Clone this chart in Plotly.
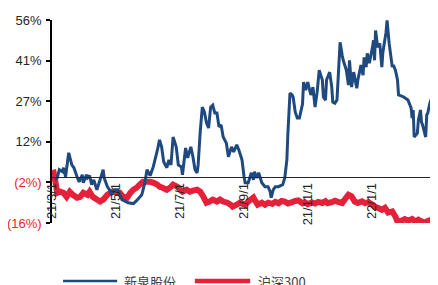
import pandas as pd
import plotly.graph_objects as go

start_date = "2021-03-01"

# 新泉股份 relative return (%) — day offsets from 2021-03-01
blue_days = [3, 5, 7, 10, 11, 13, 16, 19, 21, 24, 26, 29, 30, 33, 34, 36, 38, 40, 43, 46, 49, 50, 53, 55, 57, 60,
             63, 67, 73, 78, 81, 86, 89, 91, 94, 97, 101, 103, 105, 107, 110, 112, 114, 116, 119, 121, 124, 125,
             128, 130, 133, 135, 137, 139, 140, 142, 144, 146, 148, 150, 152, 154, 156, 158, 160, 162, 164, 167,
             169, 171, 172, 174, 177, 179, 182, 184, 185, 188, 191, 193, 194, 196, 198, 201, 204, 207, 209, 210,
             212, 214, 217, 221, 223, 225, 226, 228, 230, 231, 233, 235, 237, 240, 241, 243, 245, 248, 250, 252,
             254, 256, 259, 260, 262, 263, 266, 268, 269, 271, 273, 276, 278, 279, 282, 284, 285, 287, 289, 292,
             293, 296, 298, 299, 301, 302, 304, 307, 308, 309, 310, 312, 314, 316, 317, 320, 321, 323, 326, 327,
             329, 331, 332, 337, 341, 344, 345, 346, 347, 350, 351, 353, 354, 355, 358, 359, 360, 362, 364, 365]
blue_vals = [-1.0, -0.4, 2.5, 1.8, 3.2, 0.0, 8.5, 4.2, 3.2, 0.0, -1.8, 0.7, -2.1, 0.7, -0.4, 0.4, -2.8, -1.1, -4.6,
             -1.1, 2.5, -0.4, -3.5, -4.6, -6.4, -4.6,
             -4.6, -8.1, -9.2, -9.5, -8.5, -6.4, -2.1, 2.5, 0.4, 3.5, 9.5, 13.1, 10.6, 5.3, 3.2, 6.0, 4.2, 14.1,
             10.6, 4.2, 3.5, 0.7,
             10.2, 6.7, 10.6, 7.1, 2.5, 1.4, 4.2, 15.9, 24.7, 23.0, 19.1, 17.3, 24.7, 25.4, 22.6, 22.6, 17.7,
             18.4, 14.1, 12.0,
             7.1, 9.5, 10.6, 8.8, 11.3, 9.5, 6.0, 0.0, -2.1, -2.1, 1.4, -1.1, 1.8, -0.4, 1.4, -2.1, -3.5, -3.5,
             -5.3, -7.4,
             -4.6, -3.5, -3.5, -2.8, -0.4, 6.0, 15.5, 29.7, 29.0, 28.3, 23.0, 20.8, 20.8, 25.8, 33.6, 30.7,
             33.6, 29.0, 31.8, 24.7,
             30.0, 37.8, 34.3, 28.3, 27.2, 34.3, 37.1, 31.8, 26.5, 26.1, 27.2, 47.7, 43.1, 41.3, 37.8, 32.5,
             41.3, 31.8, 37.1, 31.4,
             34.3, 39.6, 36.0, 42.4, 38.9, 43.8, 40.3, 45.9, 48.4, 41.3, 51.9, 45.9, 47.3, 38.9, 44.2, 51.2,
             55.5, 47.3, 38.9, 39.6,
             37.8, 34.3, 29.0, 28.3, 27.2, 24.4, 20.8, 23.7, 14.1, 15.5, 20.1, 23.7, 19.4, 18.4, 14.1, 21.9,
             22.6, 26.1, 28.3, 33.6]

# 沪深300 relative return (%)
red_days = [1, 3, 5, 8, 11, 14, 17, 20, 24, 27, 30, 34, 36, 39, 43, 46, 49, 53, 56, 58, 62, 65, 68, 72, 75, 78,
            81, 84, 87, 91, 94, 97, 101, 103, 106, 110, 113, 116, 120, 123, 125, 129, 132, 135, 139, 142, 145,
            148, 151, 154, 158, 161, 164, 168, 171, 173, 177, 180, 185, 188, 193, 194, 197, 201, 204, 207, 211,
            214, 217, 220, 223, 226, 230, 233, 236, 240, 242, 245, 249, 252, 255, 259, 262, 264, 268, 271, 274,
            278, 281, 284, 287, 290, 293, 297, 300, 303, 307, 309, 312, 316, 319, 322, 326, 329, 331, 335, 338,
            341, 345, 348, 351, 354, 357, 360, 364, 365]
red_vals = [2.5, -1.1, -5.7, -5.3, -5.7, -7.1, -5.3, -6.4, -7.4, -7.1, -5.7, -6.4, -5.3, -7.1, -8.1, -8.8, -8.1,
            -6.4, -5.7, -5.3, -5.7, -5.7, -7.1, -7.4, -5.7, -4.6,
            -3.9, -2.8, -1.8, -1.8, -1.8, -2.1, -2.8, -3.5, -3.9, -4.6, -3.9, -2.8, -3.5, -4.6, -5.3, -4.6, -5.3,
            -4.9, -4.6, -5.3, -7.1,
            -9.2, -8.8, -8.1, -8.8, -8.1, -8.8, -9.2, -9.9, -10.6, -9.9, -9.2, -9.9, -8.8, -7.4, -8.1, -9.9,
            -9.2, -9.9, -9.2, -9.6,
            -8.9, -9.4, -8.6, -8.8, -9.5, -9.0, -8.6, -8.4, -9.4, -9.0, -9.7, -9.1, -9.5, -8.9, -9.3, -8.7,
            -9.4, -9.0, -8.5, -8.9,
            -9.3, -7.8, -6.4, -6.9, -8.8, -9.3, -8.7, -9.4, -9.0, -9.9, -10.6, -11.0, -11.7, -11.0, -12.7,
            -12.3, -14.1, -15.9, -15.6, -15.0,
            -15.6, -15.0, -15.9, -15.2, -15.8, -16.3, -15.7, -15.1, -15.0]

series_names = ["新泉股份", "沪深300"]
y_tick_vals = [-16.4, -2.0, 12.4, 26.8, 41.2, 55.6]
y_tick_labels = ["(16%)", "(2%)", "12%", "27%", "41%", "56%"]
x_tick_dates = ["2021-03-01", "2021-05-01", "2021-07-01", "2021-09-01", "2021-11-01", "2022-01-01", "2022-03-01"]
x_tick_labels = ["21/3/1", "21/5/1", "21/7/1", "21/9/1", "21/11/1", "22/1/1", "22/3/1"]

BLUE = "#1F4A80"
RED = "#E5213A"
NEG = "#F0202A"

base = pd.Timestamp(start_date)
blue_x = [base + pd.Timedelta(days=d) for d in blue_days]
red_x = [base + pd.Timedelta(days=d) for d in red_days]

y_min, y_max = y_tick_vals[0], y_tick_vals[-1]

fig = go.Figure()
fig.add_trace(go.Scatter(x=red_x, y=red_vals, mode="lines", name=series_names[1],
                         line=dict(color=RED, width=6, simplify=False), cliponaxis=False))
fig.add_trace(go.Scatter(x=blue_x, y=blue_vals, mode="lines", name=series_names[0],
                         line=dict(color=BLUE, width=3, simplify=False), cliponaxis=False))

tick_text = [f'<span style="color:{NEG}">{t}</span>' if t.startswith("(") else t for t in y_tick_labels]

# the page body has an 8px default margin, so the figure is 8px smaller than the window
fig.update_layout(
    width=430, height=277,
    margin=dict(l=44, r=5, t=12, b=62, autoexpand=False),
    paper_bgcolor="white", plot_bgcolor="white",
    showlegend=False,
    font=dict(family="Liberation Sans, Arial", size=13, color="#262626"),
    xaxis=dict(
        type="date",
        range=[x_tick_dates[0], x_tick_dates[-1]],
        tickvals=x_tick_dates, ticktext=x_tick_labels,
        tickangle=-90,
        anchor="free",
        position=(0 - y_min) / (y_max - y_min),
        automargin=False,
        showline=True, linecolor="#262626", linewidth=1,
        showgrid=False, zeroline=False, ticks="",
        tickfont=dict(size=13, color="#262626"),
    ),
    yaxis=dict(
        range=[y_min, y_max],
        tickvals=y_tick_vals, ticktext=tick_text,
        automargin=False,
        showline=True, linecolor="black", linewidth=1.5,
        ticks="outside", ticklen=4, tickwidth=1.5, tickcolor="black",
        ticklabelstandoff=2,
        showgrid=False, zeroline=False,
        tickfont=dict(size=13, color="#262626"),
    ),
)

# manual legend
legend_y = -0.286
fig.add_shape(type="line", xref="paper", yref="paper", x0=0.029, x1=0.171, y0=legend_y, y1=legend_y,
              line=dict(color=BLUE, width=2.5))
fig.add_shape(type="line", xref="paper", yref="paper", x0=0.375, x1=0.520, y0=legend_y, y1=legend_y,
              line=dict(color=RED, width=4.5))
fig.add_annotation(xref="paper", yref="paper", x=0.184, y=legend_y, text=series_names[0], showarrow=False,
                   xanchor="left", yanchor="middle",
                   font=dict(family="Noto Sans CJK SC", size=13, color="#404040"))
fig.add_annotation(xref="paper", yref="paper", x=0.535, y=legend_y, text=series_names[1], showarrow=False,
                   xanchor="left", yanchor="middle",
                   font=dict(family="Noto Sans CJK SC", size=13, color="#404040"))

fig.write_html("out.html")
